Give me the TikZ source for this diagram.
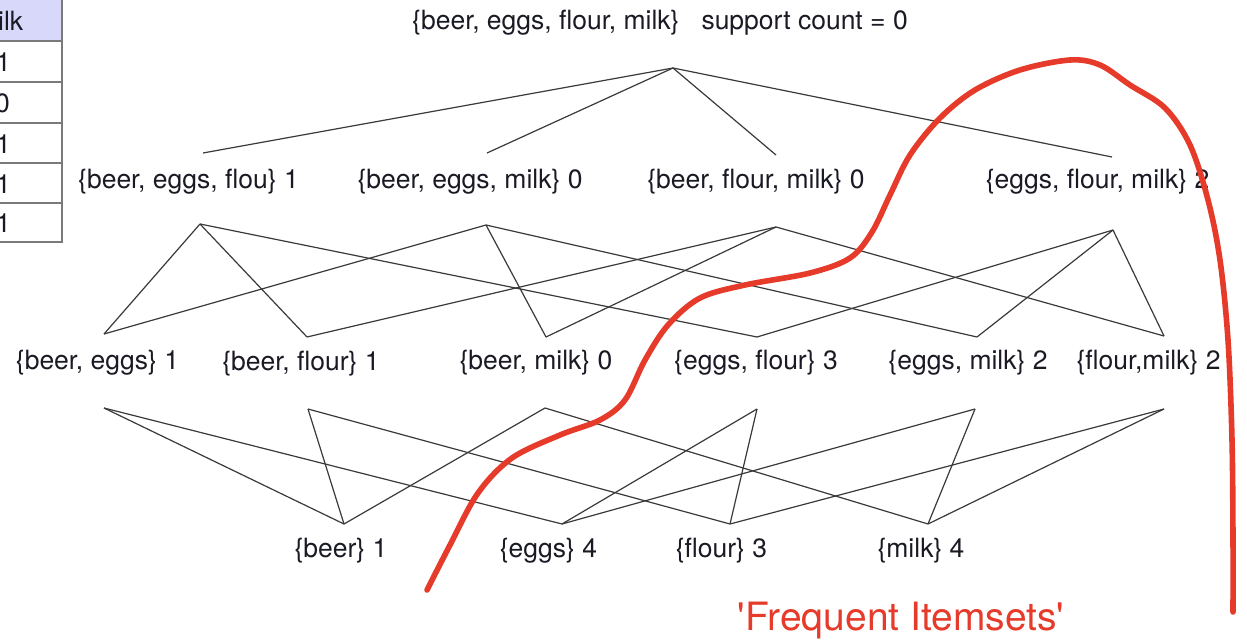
\documentclass[tikz,border=0pt]{standalone}
\usepackage{fontspec}
\setmainfont{TeX Gyre Heros}
\definecolor{ink}{HTML}{1A1A24}
\definecolor{edgegray}{HTML}{3A3A3A}
\definecolor{curvered}{HTML}{E63B2A}
\definecolor{headfill}{HTML}{D8D8FA}
\definecolor{gridgray}{HTML}{7A7A7A}
\begin{document}
\begin{tikzpicture}[x=1pt,y=-1pt,
  lbl/.style={font=\fontsize{26.5}{30}\selectfont, text=ink, inner sep=0pt, anchor=center},
  cell/.style={font=\fontsize{26.5}{30}\selectfont, text=ink, inner sep=0pt, anchor=west},
  link/.style={draw=edgegray, line width=1.2pt},
  border/.style={draw=gridgray, line width=1.4pt},
  boundary/.style={draw=curvered, line width=5.6pt, line cap=round, line join=round},
  tag/.style={font=\fontsize{39}{44}\selectfont, text=curvered, inner sep=0pt, anchor=center}]
\useasboundingbox (0,0) rectangle (1247,644);
\fill[white] (0,0) rectangle (1247,644);

% --- partial data table at the left edge ---
\fill[headfill] (-5,0) rectangle (62,41);
\draw[border] (62,-2) -- (62,242) -- (-5,242);
\foreach \yy in {41,82,123,163,203} \draw[border] (-5,\yy) -- (62,\yy);
\node[cell] (hd) at (-2,21) {ilk};
\node[cell] (r1) at (-4,62.5) {1};
\node[cell] (r2) at (-5,103.5) {0};
\node[cell] (r3) at (-4,144) {1};
\node[cell] (r4) at (-4,184) {1};
\node[cell] (r5) at (-4,223.5) {1};

% --- itemset labels ---
\node[lbl] (top) at (660,23) {\{beer, eggs, flour, milk\}\hspace{22pt}support count = 0};

\node[lbl] (bef) at (188.5,182) {\{beer, eggs, flou\} 1};
\node[lbl] (bem) at (470,182) {\{beer, eggs, milk\} 0};
\node[lbl] (bfm) at (756,182) {\{beer, flour, milk\} 0};
\node[lbl] (efm) at (1097.5,182) {\{eggs, flour, milk\} 2};

\node[lbl] (be) at (97.5,363) {\{beer, eggs\} 1};
\node[lbl] (bf) at (301,364) {\{beer, flour\} 1};
\node[lbl] (bm) at (536,363) {\{beer, milk\} 0};
\node[lbl] (ef) at (756,363) {\{eggs, flour\} 3};
\node[lbl] (em) at (968,363) {\{eggs, milk\} 2};
\node[lbl] (fm) at (1148.5,363) {\{flour,milk\} 2};

\node[lbl] (b) at (341,551) {\{beer\} 1};
\node[lbl] (e) at (548.5,551) {\{eggs\} 4};
\node[lbl] (f) at (721.5,551) {\{flour\} 3};
\node[lbl] (m) at (921,551) {\{milk\} 4};

\node[tag] (freq) at (901,621) {\textquotesingle Frequent Itemsets\textquotesingle};

% --- attachment points of the lattice edges ---
\coordinate (apex) at (673,68);
\coordinate (befT) at (203,153);  \coordinate (befB) at (200,224);
\coordinate (bemT) at (487,153);  \coordinate (bemB) at (486,225);
\coordinate (bfmT) at (776,155);  \coordinate (bfmB) at (776,227);
\coordinate (efmT) at (1112,157); \coordinate (efmB) at (1113,230);

\coordinate (beT) at (104,334);  \coordinate (beB) at (104,408);
\coordinate (bfT) at (307,337);  \coordinate (bfB) at (308,409);
\coordinate (bmT) at (546,337);  \coordinate (bmB) at (545,408);
\coordinate (efT) at (757,337);  \coordinate (efB) at (757,409);
\coordinate (emT) at (977,337);  \coordinate (emB) at (975,409);
\coordinate (fmT) at (1164,336); \coordinate (fmB) at (1164,409);

\coordinate (bT) at (344,524);
\coordinate (eT) at (562,524);
\coordinate (fT) at (730,524);
\coordinate (mT) at (928,524);

% --- lattice edges ---
\foreach \t in {befT,bemT,bfmT,efmT} \draw[link] (apex) -- (\t);

\foreach \s/\t in {befB/beT, befB/bfT, befB/efT,
                   bemB/beT, bemB/bmT, bemB/emT,
                   bfmB/bfT, bfmB/bmT, bfmB/fmT,
                   efmB/efT, efmB/emT, efmB/fmT}
  \draw[link] (\s) -- (\t);

\foreach \s/\t in {beB/bT, beB/eT, bfB/bT, bfB/fT, bmB/bT, bmB/mT,
                   efB/eT, efB/fT, emB/eT, emB/mT, fmB/fT, fmB/mT}
  \draw[link] (\s) -- (\t);

% --- frequent-itemset boundary ---
\draw[boundary] plot[smooth, tension=0.55] coordinates {
  (427,590) (450,545) (478,493) (512,458) (560,435) (600,420) (625,400)
  (645,360) (668,325) (700,298) (745,285) (810,273) (850,258) (872,232)
  (890,195) (910,155) (940,118) (975,90) (1020,70) (1070,60) (1100,65)
  (1130,85) (1165,108) (1190,145) (1208,200) (1220,260) (1228,340)
  (1232,440) (1233,540) (1233,612)};
\end{tikzpicture}
\end{document}
